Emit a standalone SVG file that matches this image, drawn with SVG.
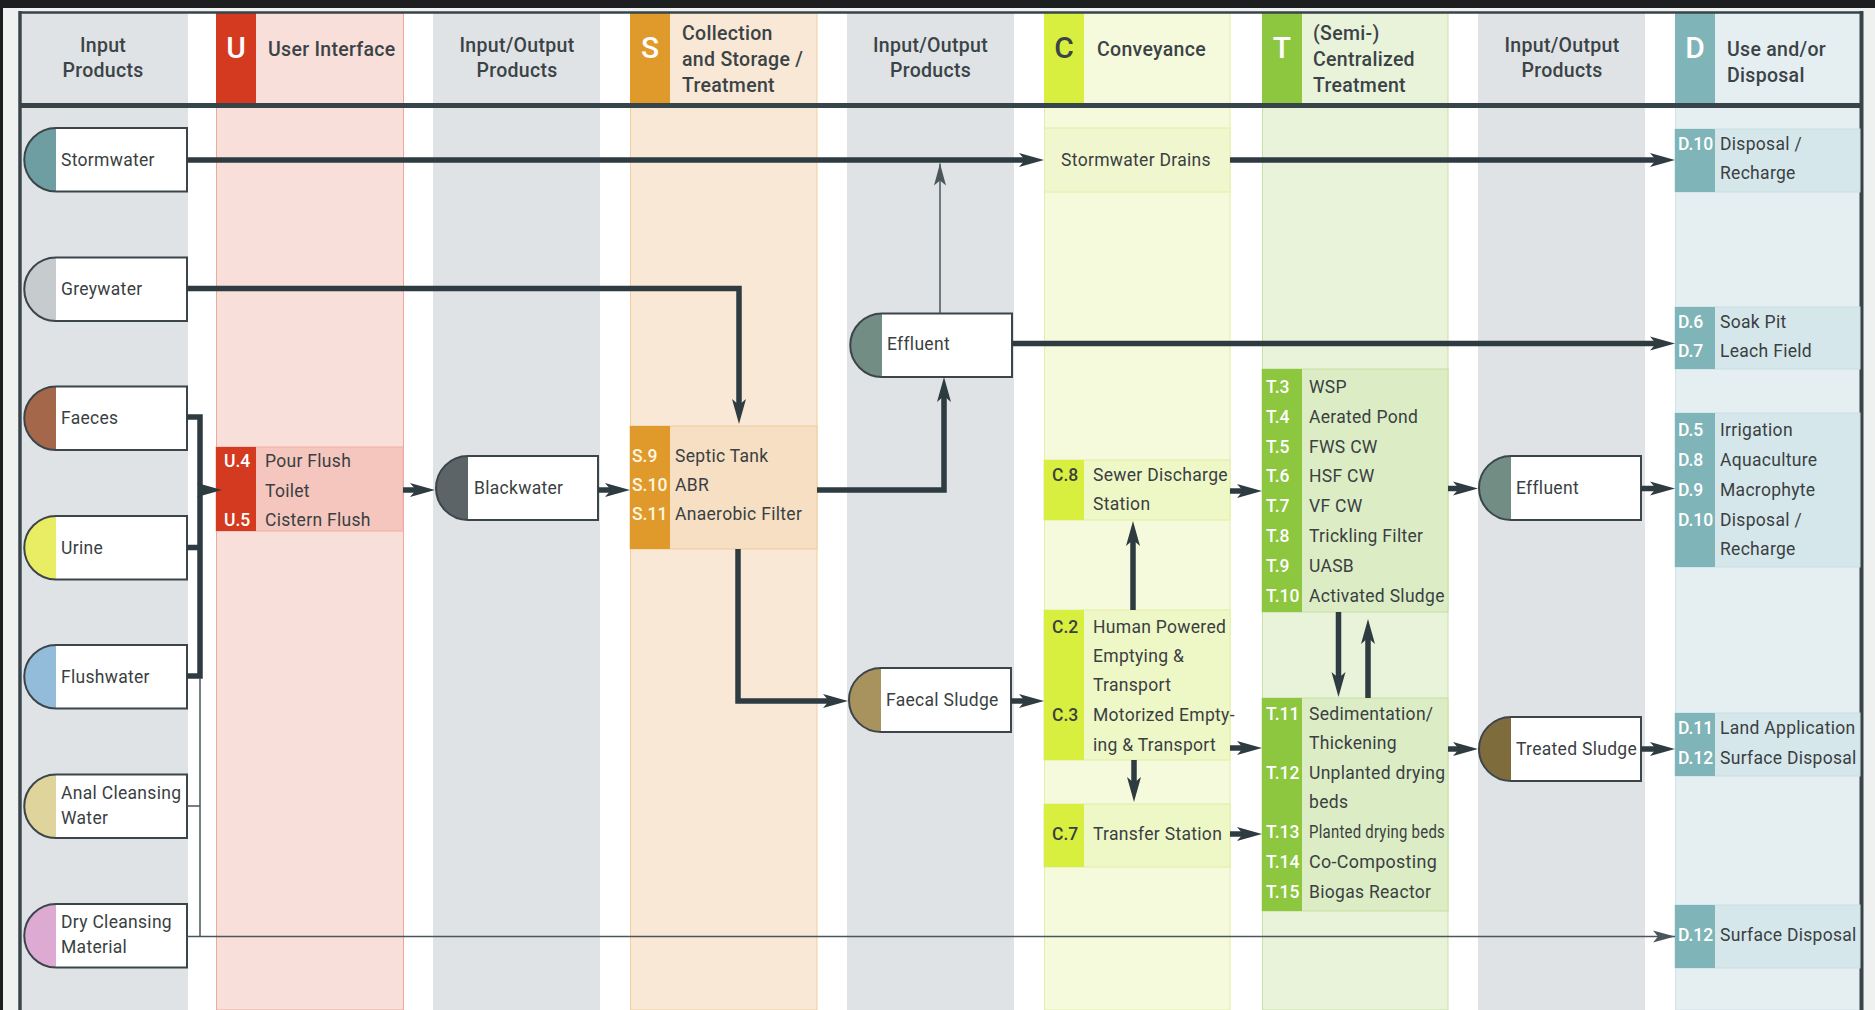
<svg xmlns="http://www.w3.org/2000/svg" width="1875" height="1010" viewBox="0 0 1875 1010">
<defs>
<style>
text{font-family:Roboto,"Liberation Sans",Arial,sans-serif}
.hd{font-size:19.5px;font-weight:500;fill:#3b4347;letter-spacing:0.3px}
.hc{text-anchor:middle}
.bl{font-size:30px;font-weight:500;fill:#fff;text-anchor:middle}
.t{font-size:17.5px;fill:#3a3f42;letter-spacing:0.3px}
.lb{font-size:17.5px;font-weight:500;fill:#fff}
.lbs{font-size:17.5px;font-weight:500;fill:#fff6e2}
.lbd{font-size:17.5px;font-weight:500;fill:#3a3f42}
.gray{fill:#dfe3e5}
.out{fill:none;stroke:#3b454a;stroke-width:2}
.body{fill:#fff}
.c{fill:none;stroke:#2e3b41;stroke-width:5.5;stroke-linejoin:miter}
.ct{fill:none;stroke:#4b565b;stroke-width:1.5}
.frame{stroke:#37444a;fill:none}
</style>
<marker id="ah" markerUnits="userSpaceOnUse" markerWidth="25" markerHeight="14" refX="6" refY="7" orient="auto" overflow="visible"><path d="M0,0 L25,7 L0,14 L6,7 Z" fill="#2e3b41"/></marker>
<marker id="aht" markerUnits="userSpaceOnUse" markerWidth="22" markerHeight="12" refX="22" refY="6" orient="auto" overflow="visible"><path d="M0,0 L22,6 L0,12 L5,6 Z" fill="#4b565b"/></marker>
</defs>

<!-- page -->
<rect x="0" y="0" width="1875" height="1010" fill="#eff1f1"/>
<rect x="0" y="0" width="1875" height="8" fill="#1d1e1f"/>
<rect x="0" y="0" width="3" height="1010" fill="#1d1e1f"/>
<rect x="20" y="12" width="1842" height="998" fill="#ffffff"/>

<!-- columns -->
<g id="columns">
<rect class="gray" x="22" y="13" width="166" height="997"/>
<rect x="216.5" y="13" width="187" height="997" fill="#f8dfd9" stroke="#eca99e" stroke-width="1"/>
<rect class="gray" x="433" y="13" width="167" height="997"/>
<rect x="630.5" y="13" width="186.5" height="997" fill="#f8e8d5" stroke="#f1cf9f" stroke-width="1"/>
<rect class="gray" x="847" y="13" width="167" height="997"/>
<rect x="1044.5" y="13" width="185.5" height="997" fill="#f5fadd" stroke="#e3eea4" stroke-width="1"/>
<rect x="1262.5" y="13" width="185.5" height="997" fill="#e8f3da" stroke="#c9e1a4" stroke-width="1"/>
<rect class="gray" x="1478" y="13" width="167" height="997"/>
<rect x="1675.5" y="13" width="185" height="997" fill="#e5eff1" stroke="#d2e3e6" stroke-width="1"/>
</g>

<!-- header -->
<g id="header">
<rect x="216" y="13" width="40" height="91" fill="#d43a1f"/>
<rect x="630" y="13" width="40" height="91" fill="#e09a2b"/>
<rect x="1044" y="13" width="40" height="91" fill="#d9ef3f"/>
<rect x="1262" y="13" width="40" height="91" fill="#8dc63f"/>
<rect x="1675" y="13" width="40" height="91" fill="#7fb5b9"/>
<text class="bl" x="236" y="58">U</text>
<text class="bl" x="650" y="58">S</text>
<text class="bl" x="1064" y="58" style="fill:#3b4347">C</text>
<text class="bl" x="1282" y="58">T</text>
<text class="bl" x="1695" y="58">D</text>
<text class="hd hc" x="103" y="51.5">Input</text>
<text class="hd hc" x="103" y="77">Products</text>
<text class="hd" x="268" y="56">User Interface</text>
<text class="hd hc" x="517" y="51.5">Input/Output</text>
<text class="hd hc" x="517" y="77">Products</text>
<text class="hd" x="682" y="40">Collection</text>
<text class="hd" x="682" y="66">and Storage /</text>
<text class="hd" x="682" y="92">Treatment</text>
<text class="hd hc" x="930.5" y="51.5">Input/Output</text>
<text class="hd hc" x="930.5" y="77">Products</text>
<text class="hd" x="1097" y="56">Conveyance</text>
<text class="hd" x="1313" y="40">(Semi-)</text>
<text class="hd" x="1313" y="66">Centralized</text>
<text class="hd" x="1313" y="92">Treatment</text>
<text class="hd hc" x="1562" y="51.5">Input/Output</text>
<text class="hd hc" x="1562" y="77">Products</text>
<text class="hd" x="1727" y="56">Use and/or</text>
<text class="hd" x="1727" y="82">Disposal</text>
</g>

<!-- frame -->
<g id="frame">
<line class="frame" x1="19" y1="12.5" x2="1863" y2="12.5" stroke-width="2.5"/>
<line class="frame" x1="19" y1="105.5" x2="1863" y2="105.5" stroke-width="5"/>
<line class="frame" x1="20" y1="11" x2="20" y2="1010" stroke-width="3.5"/>
<line class="frame" x1="1861.5" y1="11" x2="1861.5" y2="1010" stroke-width="4"/>
</g>

<!-- technology boxes -->
<g id="u-box">
<rect x="216" y="447" width="187" height="84" fill="#f4c6bd" stroke="#eeb0a6" stroke-width="1"/>
<rect x="216" y="447" width="40" height="84" fill="#d43a1f"/>
<text class="lb" x="224" y="467">U.4</text><text class="t" x="265" y="467">Pour Flush</text>
<text class="t" x="265" y="496.5">Toilet</text>
<text class="lb" x="224" y="526">U.5</text><text class="t" x="265" y="526">Cistern Flush</text>
</g>
<g id="s-box">
<rect x="630" y="426" width="187" height="123" fill="#f6dfc2" stroke="#f0cc9c" stroke-width="1"/>
<rect x="630" y="426" width="40" height="123" fill="#e09a2b"/>
<text class="lbs" x="632" y="462">S.9</text><text class="t" x="675" y="462">Septic Tank</text>
<text class="lbs" x="632" y="491">S.10</text><text class="t" x="675" y="491">ABR</text>
<text class="lbs" x="632" y="520">S.11</text><text class="t" x="675" y="520">Anaerobic Filter</text>
</g>
<g id="stormwater-drains">
<rect x="1044.5" y="128" width="185.5" height="64" fill="#f0f7cf" stroke="#e3eea8" stroke-width="1"/>
<text class="t" x="1136" y="166" text-anchor="middle">Stormwater Drains</text>
</g>
<g id="c8-box">
<rect x="1044" y="460" width="186" height="60" fill="#eef7c6" stroke="#e1eda2" stroke-width="1"/>
<rect x="1044" y="460" width="40" height="60" fill="#d9ef3f"/>
<text class="lbd" x="1052" y="481">C.8</text><text class="t" x="1093" y="481">Sewer Discharge</text>
<text class="t" x="1093" y="510">Station</text>
</g>
<g id="c2-box">
<rect x="1044" y="610" width="186" height="150" fill="#eef7c6" stroke="#e1eda2" stroke-width="1"/>
<rect x="1044" y="610" width="40" height="150" fill="#d9ef3f"/>
<text class="lbd" x="1052" y="633">C.2</text><text class="t" x="1093" y="633">Human Powered</text>
<text class="t" x="1093" y="662">Emptying &amp;</text>
<text class="t" x="1093" y="691">Transport</text>
<text class="lbd" x="1052" y="721">C.3</text><text class="t" x="1093" y="721">Motorized Empty-</text>
<text class="t" x="1093" y="751">ing &amp; Transport</text>
</g>
<g id="c7-box">
<rect x="1044" y="804" width="186" height="63" fill="#eef7c6" stroke="#e1eda2" stroke-width="1"/>
<rect x="1044" y="804" width="40" height="63" fill="#d9ef3f"/>
<text class="lbd" x="1052" y="840">C.7</text><text class="t" x="1093" y="840">Transfer Station</text>
</g>
<g id="t-box-1">
<rect x="1262" y="369" width="186" height="243" fill="#dcedc5" stroke="#c6dfa0" stroke-width="1"/>
<rect x="1262" y="369" width="40" height="243" fill="#8dc63f"/>
<text class="lb" x="1266" y="393">T.3</text><text class="t" x="1309" y="393">WSP</text>
<text class="lb" x="1266" y="423">T.4</text><text class="t" x="1309" y="423">Aerated Pond</text>
<text class="lb" x="1266" y="452.5">T.5</text><text class="t" x="1309" y="452.5">FWS CW</text>
<text class="lb" x="1266" y="482">T.6</text><text class="t" x="1309" y="482">HSF CW</text>
<text class="lb" x="1266" y="512">T.7</text><text class="t" x="1309" y="512">VF CW</text>
<text class="lb" x="1266" y="542">T.8</text><text class="t" x="1309" y="542">Trickling Filter</text>
<text class="lb" x="1266" y="572">T.9</text><text class="t" x="1309" y="572">UASB</text>
<text class="lb" x="1266" y="601.5">T.10</text><text class="t" x="1309" y="601.5">Activated Sludge</text>
</g>
<g id="t-box-2">
<rect x="1262" y="698" width="186" height="213" fill="#dcedc5" stroke="#c6dfa0" stroke-width="1"/>
<rect x="1262" y="698" width="40" height="213" fill="#8dc63f"/>
<text class="lb" x="1266" y="719.5">T.11</text><text class="t" x="1309" y="719.5">Sedimentation/</text>
<text class="t" x="1309" y="749">Thickening</text>
<text class="lb" x="1266" y="778.5">T.12</text><text class="t" x="1309" y="778.5">Unplanted drying</text>
<text class="t" x="1309" y="808">beds</text>
<text class="lb" x="1266" y="838">T.13</text><text class="t" x="1309" y="838" textLength="136" lengthAdjust="spacingAndGlyphs">Planted drying beds</text>
<text class="lb" x="1266" y="868">T.14</text><text class="t" x="1309" y="868" textLength="128" lengthAdjust="spacingAndGlyphs">Co-Composting</text>
<text class="lb" x="1266" y="897.5">T.15</text><text class="t" x="1309" y="897.5">Biogas Reactor</text>
</g>
<g id="d-box-1">
<rect x="1675" y="129" width="185" height="63" fill="#d5e7ea" stroke="#c9dfe2" stroke-width="1"/>
<rect x="1675" y="129" width="40" height="63" fill="#7fb5b9"/>
<text class="lb" x="1678" y="149.5">D.10</text><text class="t" x="1720" y="149.5">Disposal /</text>
<text class="t" x="1720" y="179">Recharge</text>
</g>
<g id="d-box-2">
<rect x="1675" y="307" width="185" height="62" fill="#d5e7ea" stroke="#c9dfe2" stroke-width="1"/>
<rect x="1675" y="307" width="40" height="62" fill="#7fb5b9"/>
<text class="lb" x="1678" y="328">D.6</text><text class="t" x="1720" y="328">Soak Pit</text>
<text class="lb" x="1678" y="356.5">D.7</text><text class="t" x="1720" y="356.5">Leach Field</text>
</g>
<g id="d-box-3">
<rect x="1675" y="413" width="185" height="154" fill="#d5e7ea" stroke="#c9dfe2" stroke-width="1"/>
<rect x="1675" y="413" width="40" height="154" fill="#7fb5b9"/>
<text class="lb" x="1678" y="436">D.5</text><text class="t" x="1720" y="436">Irrigation</text>
<text class="lb" x="1678" y="466">D.8</text><text class="t" x="1720" y="466">Aquaculture</text>
<text class="lb" x="1678" y="496">D.9</text><text class="t" x="1720" y="496">Macrophyte</text>
<text class="lb" x="1678" y="526">D.10</text><text class="t" x="1720" y="526">Disposal /</text>
<text class="t" x="1720" y="555">Recharge</text>
</g>
<g id="d-box-4">
<rect x="1675" y="713" width="185" height="63" fill="#d5e7ea" stroke="#c9dfe2" stroke-width="1"/>
<rect x="1675" y="713" width="40" height="63" fill="#7fb5b9"/>
<text class="lb" x="1678" y="734">D.11</text><text class="t" x="1720" y="734">Land Application</text>
<text class="lb" x="1678" y="764">D.12</text><text class="t" x="1720" y="764">Surface Disposal</text>
</g>
<g id="d-box-5">
<rect x="1675" y="905" width="185" height="63" fill="#d5e7ea" stroke="#c9dfe2" stroke-width="1"/>
<rect x="1675" y="905" width="40" height="63" fill="#7fb5b9"/>
<text class="lb" x="1678" y="941">D.12</text><text class="t" x="1720" y="941">Surface Disposal</text>
</g>

<!-- product nodes -->
<g id="stormwater">
<rect class="body" x="56" y="128" width="131" height="63.5"/>
<path d="M56,128 A31.75,31.75 0 0 0 56,191.5 Z" fill="#6f9ea2"/>
<path class="out" d="M56,128 H187 V191.5 H56 A31.75,31.75 0 0 1 56,128 Z"/>
<text class="t" x="61" y="166">Stormwater</text>
</g>
<g id="greywater">
<rect class="body" x="56" y="257.5" width="131" height="63.5"/>
<path d="M56,257.5 A31.75,31.75 0 0 0 56,321 Z" fill="#c6cbcd"/>
<path class="out" d="M56,257.5 H187 V321 H56 A31.75,31.75 0 0 1 56,257.5 Z"/>
<text class="t" x="61" y="295">Greywater</text>
</g>
<g id="faeces">
<rect class="body" x="56" y="386.5" width="131" height="63.5"/>
<path d="M56,386.5 A31.75,31.75 0 0 0 56,450 Z" fill="#a5674a"/>
<path class="out" d="M56,386.5 H187 V450 H56 A31.75,31.75 0 0 1 56,386.5 Z"/>
<text class="t" x="61" y="424">Faeces</text>
</g>
<g id="urine">
<rect class="body" x="56" y="516" width="131" height="63.5"/>
<path d="M56,516 A31.75,31.75 0 0 0 56,579.5 Z" fill="#e9ed63"/>
<path class="out" d="M56,516 H187 V579.5 H56 A31.75,31.75 0 0 1 56,516 Z"/>
<text class="t" x="61" y="554">Urine</text>
</g>
<g id="flushwater">
<rect class="body" x="56" y="645" width="131" height="63.5"/>
<path d="M56,645 A31.75,31.75 0 0 0 56,708.5 Z" fill="#93bcdb"/>
<path class="out" d="M56,645 H187 V708.5 H56 A31.75,31.75 0 0 1 56,645 Z"/>
<text class="t" x="61" y="683">Flushwater</text>
</g>
<g id="anal-cleansing-water">
<rect class="body" x="56" y="774.5" width="131" height="63.5"/>
<path d="M56,774.5 A31.75,31.75 0 0 0 56,838 Z" fill="#dfd49b"/>
<path class="out" d="M56,774.5 H187 V838 H56 A31.75,31.75 0 0 1 56,774.5 Z"/>
<text class="t" x="61" y="799">Anal Cleansing</text>
<text class="t" x="61" y="824">Water</text>
</g>
<g id="dry-cleansing-material">
<rect class="body" x="56" y="904" width="131" height="63.5"/>
<path d="M56,904 A31.75,31.75 0 0 0 56,967.5 Z" fill="#dcaad3"/>
<path class="out" d="M56,904 H187 V967.5 H56 A31.75,31.75 0 0 1 56,904 Z"/>
<text class="t" x="61" y="928">Dry Cleansing</text>
<text class="t" x="61" y="953">Material</text>
</g>
<g id="blackwater">
<rect class="body" x="468" y="456" width="130" height="64"/>
<path d="M468,456 A32,32 0 0 0 468,520 Z" fill="#5d6468"/>
<path class="out" d="M468,456 H598 V520 H468 A32,32 0 0 1 468,456 Z"/>
<text class="t" x="474" y="494">Blackwater</text>
</g>
<g id="effluent-1">
<rect class="body" x="882" y="313.5" width="130" height="63.5"/>
<path d="M882,313.5 A31.75,31.75 0 0 0 882,377 Z" fill="#718d84"/>
<path class="out" d="M882,313.5 H1012 V377 H882 A31.75,31.75 0 0 1 882,313.5 Z"/>
<text class="t" x="887" y="350">Effluent</text>
</g>
<g id="faecal-sludge">
<rect class="body" x="881" y="668" width="130" height="64"/>
<path d="M881,668 A32,32 0 0 0 881,732 Z" fill="#a8935f"/>
<path class="out" d="M881,668 H1011 V732 H881 A32,32 0 0 1 881,668 Z"/>
<text class="t" x="886" y="706">Faecal Sludge</text>
</g>
<g id="effluent-2">
<rect class="body" x="1511" y="456" width="130" height="64"/>
<path d="M1511,456 A32,32 0 0 0 1511,520 Z" fill="#718d84"/>
<path class="out" d="M1511,456 H1641 V520 H1511 A32,32 0 0 1 1511,456 Z"/>
<text class="t" x="1516" y="494">Effluent</text>
</g>
<g id="treated-sludge">
<rect class="body" x="1511" y="717" width="130" height="64"/>
<path d="M1511,717 A32,32 0 0 0 1511,781 Z" fill="#7e6c3c"/>
<path class="out" d="M1511,717 H1641 V781 H1511 A32,32 0 0 1 1511,717 Z"/>
<text class="t" x="1516" y="755">Treated Sludge</text>
</g>

<!-- connectors -->
<g id="connectors">
<path class="c" d="M187,160 H1025" marker-end="url(#ah)"/>
<path class="c" d="M1230,160 H1656" marker-end="url(#ah)"/>
<path class="c" d="M187,288.5 H739 V405" marker-end="url(#ah)"/>
<path class="ct" d="M940,313 V163.5" marker-end="url(#aht)"/>
<path class="c" d="M1012,343.5 H1656" marker-end="url(#ah)"/>
<path class="c" d="M817,490 H944 V396" marker-end="url(#ah)"/>
<path class="c" d="M187,417 H200 V676 H187"/>
<path class="c" d="M187,547.5 H200"/>
<path class="c" d="M200,490 H203" marker-end="url(#ah)"/>
<path class="ct" d="M187,806 H200 M200,678 V936.5"/>
<path class="ct" d="M187,936.5 H1675" marker-end="url(#aht)"/>
<path class="c" d="M403,490 H416" marker-end="url(#ah)"/>
<path class="c" d="M598,490 H611" marker-end="url(#ah)"/>
<path class="c" d="M738,549 V701 H829" marker-end="url(#ah)"/>
<path class="c" d="M1011,701 H1025" marker-end="url(#ah)"/>
<path class="c" d="M1133,610 V540" marker-end="url(#ah)"/>
<path class="c" d="M1134,760 V783" marker-end="url(#ah)"/>
<path class="c" d="M1230,491 H1243" marker-end="url(#ah)"/>
<path class="c" d="M1230,748 H1243" marker-end="url(#ah)"/>
<path class="c" d="M1230,834 H1243" marker-end="url(#ah)"/>
<path class="c" d="M1338.5,612 V678" marker-end="url(#ah)"/>
<path class="c" d="M1368,698 V638" marker-end="url(#ah)"/>
<path class="c" d="M1448,488.5 H1459" marker-end="url(#ah)"/>
<path class="c" d="M1641,488.5 H1656" marker-end="url(#ah)"/>
<path class="c" d="M1448,749 H1459" marker-end="url(#ah)"/>
<path class="c" d="M1641,749 H1656" marker-end="url(#ah)"/>
</g>
</svg>
